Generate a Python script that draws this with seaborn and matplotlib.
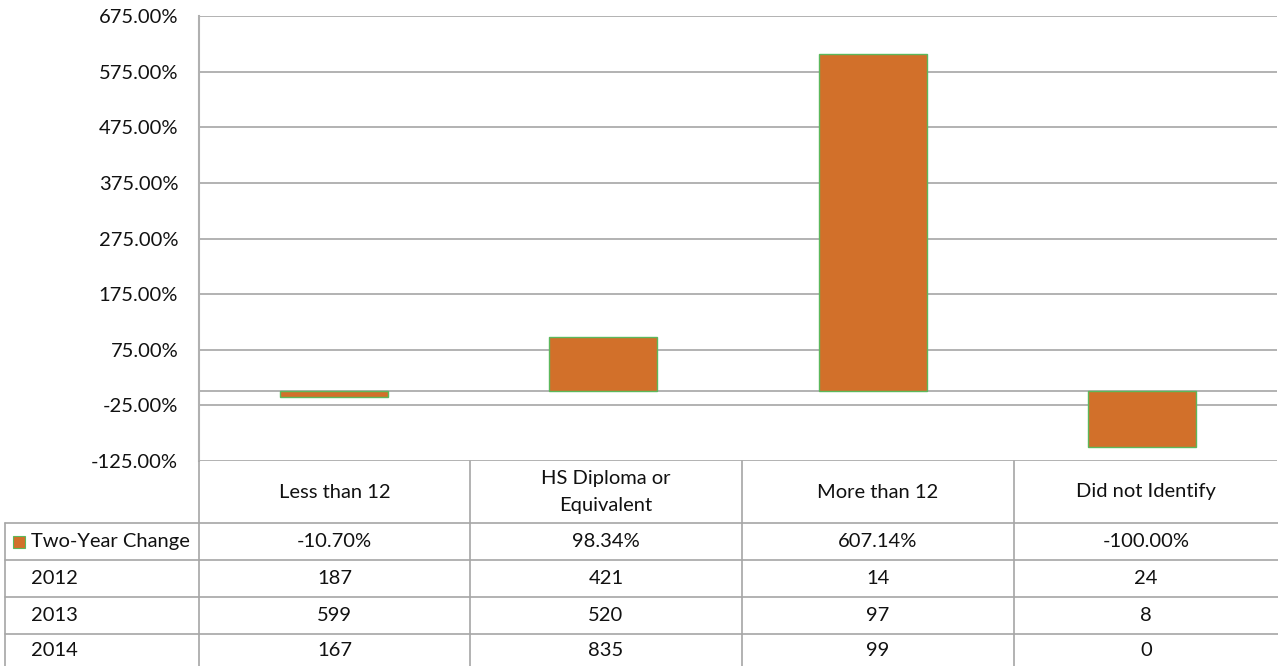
import matplotlib
matplotlib.use("Agg")
import matplotlib.pyplot as plt
import seaborn as sns
import pandas as pd

categories = ["Less than 12", "HS Diploma or\nEquivalent", "More than 12", "Did not Identify"]
two_year_change = [-10.70, 98.34, 607.14, -100.00]
y2012 = [187, 421, 14, 24]
y2013 = [599, 520, 97, 8]
y2014 = [167, 835, 99, 0]
row_labels = ["Two-Year Change", "2012", "2013", "2014"]
yticks = [-125, -25, 75, 175, 275, 375, 475, 575, 675]

sns.set_theme(style="white")
plt.rcParams["font.family"] = ["Lato", "DejaVu Sans"]

W, H = 1278, 666
fig = plt.figure(figsize=(W / 100, H / 100), dpi=100)

ax_l, ax_r, ax_t, ax_b = 199, 1277, 16, 461
ax = fig.add_axes([ax_l / W, (H - ax_b) / H, (ax_r - ax_l) / W, (ax_b - ax_t) / H])

df = pd.DataFrame({"cat": categories, "val": two_year_change})
sns.barplot(data=df, x="cat", y="val", color="#D2702A", width=0.4,
            edgecolor="#5CB85C", linewidth=1.0, saturation=1, ax=ax)
ax.set_xlim(-0.5, 3.5)
ax.set_ylim(-125, 675)
ax.set_yticks(yticks)
fs = 14.5
ax.set_yticklabels([f"{v:.2f}%" for v in yticks], fontsize=fs, color="#111111")
ax.set_xticks([])
ax.set_xlabel("")
ax.set_ylabel("")
ax.grid(False)
for v in yticks + [0]:
    ax.axhline(v, color="#A6A6A6", lw=1.2, zorder=0)
for s in ["top", "right", "bottom"]:
    ax.spines[s].set_visible(False)
ax.spines["left"].set_color("#B0B0B0")
ax.spines["left"].set_linewidth(1.5)
ax.tick_params(axis="y", length=0, pad=15)

# data table drawn below the axes (pixel coordinates)
tab = fig.add_axes([0, 0, 1, 1], facecolor="none")
tab.set_xlim(0, W)
tab.set_ylim(H, 0)
tab.axis("off")
col_x = [199, 470, 742, 1014, 1278]
row_y = [461, 523, 560, 597, 634, 671]
lc = "#A6A6A6"
for x in col_x[:4]:
    tab.plot([x, x], [row_y[0], row_y[-1]], color=lc, lw=1.2)
tab.plot([5, 5], [row_y[1], row_y[-1]], color=lc, lw=1.2)
for y in row_y[1:5]:
    tab.plot([5, W], [y, y], color=lc, lw=1.2)
for i, c in enumerate(categories):
    cx = (col_x[i] + col_x[i + 1]) / 2
    tab.text(cx, (row_y[0] + row_y[1]) / 2, c, ha="center", va="center",
             fontsize=fs, color="#111111", linespacing=1.65)
rows = [[f"{v:.2f}%" for v in two_year_change], y2012, y2013, y2014]
for r, (lab, vals) in enumerate(zip(row_labels, rows)):
    cy = (row_y[r + 1] + row_y[r + 2]) / 2 if r < 3 else (634 + 666) / 2
    if r == 0:
        tab.add_patch(plt.Rectangle((13, cy - 6), 12, 12, facecolor="#D2702A",
                                    edgecolor="#5CB85C", lw=0.8))
    tab.text(31, cy, lab, ha="left", va="center", fontsize=fs, color="#111111")
    for i, v in enumerate(vals):
        cx = (col_x[i] + col_x[i + 1]) / 2
        tab.text(cx, cy, str(v), ha="center", va="center", fontsize=fs, color="#111111")

fig.savefig("out.png", dpi=100)
